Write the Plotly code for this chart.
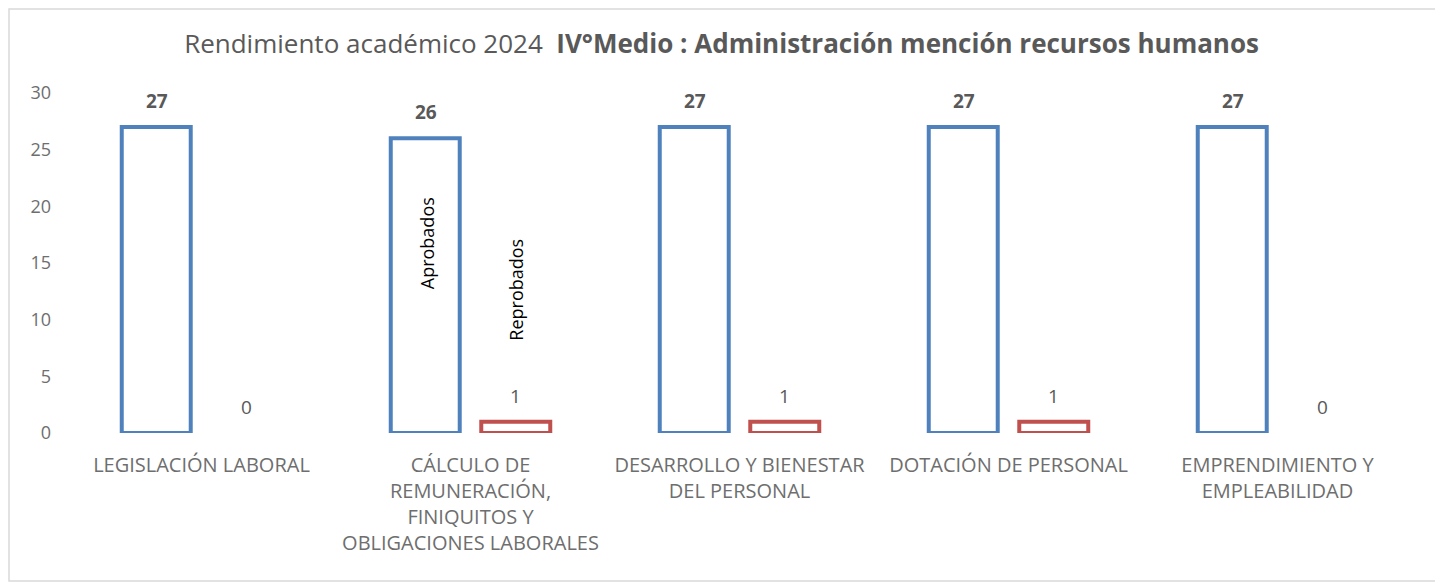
import plotly.graph_objects as go

categories = [
    "LEGISLACIÓN LABORAL",
    "CÁLCULO DE<br>REMUNERACIÓN,<br>FINIQUITOS Y<br>OBLIGACIONES LABORALES",
    "DESARROLLO Y BIENESTAR<br>DEL PERSONAL",
    "DOTACIÓN DE PERSONAL",
    "EMPRENDIMIENTO Y<br>EMPLEABILIDAD",
]
aprobados = [27, 26, 27, 27, 27]
reprobados = [0, 1, 1, 1, 0]
y_ticks = [0, 5, 10, 15, 20, 25, 30]

BLUE = "#4F81BD"
RED = "#C0504D"
GRAY = "#595959"
LGRAY = "#6E6E6E"
FONT = "Open Sans"

fig = go.Figure()
fig.add_trace(go.Bar(
    name="Aprobados", x=categories, y=aprobados,
    marker=dict(color="rgba(255,255,255,0)",
                line=dict(color=BLUE, width=[4 if v else 0 for v in aprobados])),
))
fig.add_trace(go.Bar(
    name="Reprobados", x=categories, y=reprobados,
    marker=dict(color="rgba(255,255,255,0)",
                line=dict(color=RED, width=[4 if v else 0 for v in reprobados])),
))

# value labels
for c, v in zip(categories, aprobados):
    fig.add_annotation(x=c, y=v, text=f"<b>{v}</b>", showarrow=False, xshift=-45, yshift=26,
                       font=dict(family=FONT, size=19, color=GRAY))
for c, v in zip(categories, reprobados):
    fig.add_annotation(x=c, y=v, text=str(v), showarrow=False, xshift=45, yshift=26,
                       font=dict(family=FONT, size=19, color=GRAY))

# series-name labels on the second category
fig.add_annotation(x=categories[1], y=16.7, text="Aprobados", textangle=-90,
                   showarrow=False, xshift=-44, font=dict(family=FONT, size=18, color="black"))
fig.add_annotation(x=categories[1], y=12.6, text="Reprobados", textangle=-90,
                   showarrow=False, xshift=46, font=dict(family=FONT, size=18, color="black"))

fig.update_layout(
    width=1443, height=583,
    margin=dict(l=59, r=39, t=85, b=158),
    paper_bgcolor="white", plot_bgcolor="white",
    showlegend=False,
    barmode="group", bargap=0.327, bargroupgap=0.238,
    title=dict(
        text="Rendimiento académico 2024  <b>IV°Medio : Administración mención recursos humanos</b>",
        x=0.4945, xanchor="center", y=0.938, yanchor="middle",
        font=dict(family=FONT, size=26, color=GRAY),
    ),
    xaxis=dict(showgrid=False, showline=False, ticks="", tickangle=0, ticklabelstandoff=18,
               tickfont=dict(family=FONT, size=20, color=LGRAY)),
    yaxis=dict(range=[0, 30], tickvals=y_ticks, showgrid=False, showline=False, zeroline=False,
               ticks="", ticklabelstandoff=15,
               tickfont=dict(family=FONT, size=18, color=LGRAY)),
    shapes=[dict(type="rect", xref="paper", yref="paper",
                 x0=-58 / 1345, x1=1372 / 1345,
                 y0=-148 / 340, y1=424 / 340,
                 line=dict(color="#D9D9D9", width=1.5), fillcolor="rgba(0,0,0,0)", layer="below")],
)

fig.write_html("out.html")
